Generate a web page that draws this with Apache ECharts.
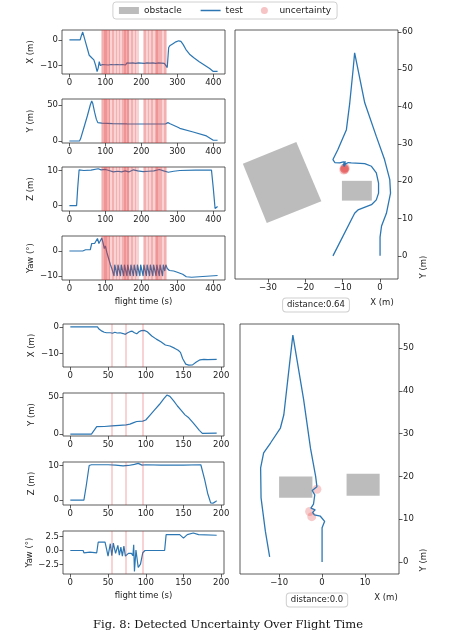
<!DOCTYPE html>
<html><head><meta charset="utf-8">
<script src="https://cdn.jsdelivr.net/npm/echarts@6/dist/echarts.min.js"></script>
<style>html,body{margin:0;padding:0;background:#fff}#c{width:450px;height:638px}</style>
</head><body><div id="c"></div>
<script>
// ---------- data: flight 1 (top) ----------
const topX = [[0,0],[30,0],[33,1.5],[37,3],[40,1.5],[45,-1],[50,-3.5],[55,-6],[62,-7],[68,-7.8],[73,-10],[77,-12.4],[80,-11],[83,-8.5],[86,-10],[89,-9.3],
[92,-9.6],[96,-9.1],[100,-9.7],[104,-9.2],[108,-9.8],[112,-9.1],[116,-9.6],[120,-9.0],[124,-9.7],[128,-9.2],[132,-9.6],[136,-9.0],[140,-9.7],[144,-9.1],[148,-9.6],[152,-9.2],[156,-9.8],[160,-9.0],[164,-9.6],[168,-9.1],[172,-9.7],[176,-9.0],[180,-9.6],[184,-9.2],[188,-9.7],[192,-9.0],[196,-9.6],[200,-9.1],[204,-9.7],[208,-9.2],[212,-9.6],[216,-9.0],[220,-9.7],[224,-9.1],[228,-9.6],[232,-9.0],[236,-9.7],[240,-9.2],[244,-9.6],[248,-9.0],[252,-9.7],[256,-9.1],[260,-9.6],[264,-9.2],[268,-9.8],
[272,-10.8],[276,-3],[280,-2.2],[288,-1.5],[296,-0.8],[304,-0.4],[310,-0.6],[316,-1.8],[324,-3.8],[334,-5.6],[346,-7],[360,-8.4],[375,-9.8],[390,-11.2],[400,-12.3],[412,-12.3]];
const topY = [[0,0],[28,0],[31,3],[40,18],[50,35],[58,50],[62,55.5],[65,52],[70,40],[75,30],[79,25.5],[90,24.8],[120,24.2],[160,23.8],[200,23.6],[240,23.6],[268,23.8],[274,25.5],[280,24],[300,19.5],[307,17.6],[344,12.5],[381,7],[400,1],[412,1]];
const topZ = [[0,0],[20,0],[23,5],[27,10.2],[40,10],[60,10.1],[80,10.5],[88,10.2],[100,10.3],[110,10],[122,9.6],[135,9.8],[145,9.6],[155,9.9],[165,9.6],[178,10.2],[190,9.9],[205,9.7],[220,9.8],[235,9.9],[250,10.3],[262,9.9],[275,9.5],[290,9.8],[307,10],[350,10.1],[395,10.1],[400,5],[405,-0.8],[409,-0.8],[412,-0.2]];
const topYaw = [[0,0],[30,0],[34,-0.6],[37,0],[45,0.5],[58,0.5],[62,3],[70,3],[74,2.5],[78,5],[82,3],[86,3.5],[90,5.2],[94,3],[97,1],[100,2],[104,-0.5],[107,-2],[110,-3.5],[114,-5.5],[118,-7],[121,-8.5],[124,-10],
[126,-5.5],[133,-10],[135,-5.5],[142,-10],[144,-5.5],[151,-10],[153,-5.5],[160,-10],[162,-5.5],[169,-10],[171,-5.5],[178,-10],[180,-5.5],[187,-10],[189,-5.5],[196,-10],[198,-5.5],[205,-10],[207,-5.5],[214,-10],[216,-5.5],[223,-10],[225,-5.5],[232,-10],[234,-5.5],[241,-10],[243,-5.5],[250,-10],[252,-5.5],[259,-10],[261,-5.5],[265,-8],[268,-5.5],[272,-7],[278,-7.8],[290,-8],[300,-8.5],[315,-9.3],[325,-10.3],[340,-10.5],[345,-9.8],[412,-9.8]];
const topUnc = [90,92,95,97,99,101,103,105,108,110,113,117,121,124,128,132,137,141,146,149,151,153,155,157,159,161,163,166,170,173,177,181,185,190,207,210,213,217,221,225,229,233,236,239,242,244,246,248,251,254,258,262,266,268];
const topPath = [[0,0],[0,5],[0.4,8],[1.7,11.4],[2.8,16.8],[2.6,20.4],[1.2,25.8],[-1,32],[-4.1,41],[-6.8,54.4],[-7.2,50],[-8.1,41],[-9,33.8],[-11.3,28.4],[-12.6,25.8],[-12.1,25],[-10.8,24.9],[-9.8,25.2],[-9.2,24.6],[-9.9,24.3],[-9.3,25.3],[-9.6,24],[-9.1,24.8],[-9.7,23.9],[-9.4,24.5],[-8.5,25],[-7.7,24.9],[-4.1,24.7],[-2.3,24],[-1,22.2],[-0.4,19.5],[-0.4,16.8],[-1,15],[-2.3,13.7],[-5.9,12.3],[-6.8,11.4],[-12.6,0]];
const topUncPts = [[-9.5,23.3],[-9.7,23.0],[-9.3,23.6],[-9.6,23.5],[-9.4,23.1]];
const topObstacles = [
  [[-36.7,24.7],[-22.4,30.5],[-15.7,14.6],[-30.3,8.8]],
  [[-10.2,20.1],[-2.2,20.1],[-2.2,14.8],[-10.2,14.8]]
];
const topDistance = 'distance:0.64';

// ---------- data: flight 2 (bottom) ----------
const botX = [[0,0],[33,0],[34,0.4],[36,0],[38,-0.8],[42,-1.6],[45,-2],[48,-2.2],[50,-1.8],[53,-2.2],[56,-2.4],[59,-2],[62,-2.3],[66,-2.2],[70,-2.5],[73,-2.8],[76,-2.2],[79,-1.8],[82,-1.6],[85,-2.2],[88,-2.6],[91,-1.8],[94,-1.4],[98,-1.3],[102,-1.8],[108,-3.4],[114,-4.6],[120,-5.6],[126,-6.8],[132,-7.2],[138,-8],[143,-8.8],[146,-9.6],[149,-12],[153,-14],[157,-14.4],[162,-14.3],[167,-13.2],[172,-12.4],[177,-12.2],[182,-12.3],[194,-12.2]];
const botY = [[0,0],[28,0],[35,10],[45,10.2],[55,11],[65,11.8],[74,12.5],[79,13.5],[84,15.5],[88,17],[96,17.5],[100,19],[106,26],[112,33],[118,40],[124,48],[128,52.8],[132,51],[137,45],[142,38],[147,32],[152,26],[157,22],[162,16],[167,10],[171,5],[175,1],[194,1.2]];
const botZ = [[0,0],[18,0],[21,4],[25,10],[28,10.2],[50,10.2],[60,10.1],[70,9.9],[77,10],[85,10.3],[90,10.6],[95,10.1],[100,10.2],[120,10.1],[150,10.1],[173,10.2],[178,6],[182,2],[186,-0.8],[189,-0.9],[192,-0.5],[194,-0.2]];
const botYaw = [[0,0],[17,0],[18,-0.4],[26,-0.3],[35,-0.4],[37,1.5],[46,1.5],[48,0.3],[50,-1],[53,1.2],[55,-0.9],[57,1.3],[60,-0.5],[63,0.9],[65,-0.8],[67,0.6],[69,-1],[71,0.8],[73,-1],[77,-0.5],[81,-0.5],[83,-0.9],[84,1],[85,-3.7],[87,0.1],[90,-3],[93,-2.4],[96,-0.4],[99,0],[125,0],[127,2.8],[145,2.8],[150,2.2],[155,2.8],[163,3.1],[170,2.8],[194,2.7]];
const botUnc = [55,73,96];
const botPath = [[0,0],[0,8],[0.6,9.5],[-0.4,10.7],[-1.8,11],[-2.2,11.6],[-1.6,12.2],[-2.6,12.6],[-2,13.5],[-1.7,15.7],[-2.3,16.7],[-1.2,17.6],[-1.5,20],[-2.7,26.6],[-4.3,38],[-6.8,53],[-7.6,46],[-8.9,34.4],[-9.7,31.3],[-12,27.8],[-13.6,25.5],[-14.3,22],[-14.2,15],[-13.2,7.2],[-12.2,1.2]];
const botUncPts = [[-1.2,17],[-2.9,11.8],[-2.4,10.6]];
const botObstacles = [
  [[-10,20],[-2.25,20],[-2.25,15],[-10,15]],
  [[5.7,20.6],[13.4,20.6],[13.4,15.5],[5.7,15.5]]
];
const botDistance = 'distance:0.0';

// ---------- tick labels ----------
const topTimeTicks = [0,100,200,300,400];
const botTimeTicks = [0,50,100,150,200];
const panelNames = ['X (m)','Y (m)','Z (m)','Yaw (°)'];
const topYTicks = [[0,-10],[0,50],[0,10],[0,-10]];
const botYTicks = [[0,-10],[0,50],[0,10],[-2.5,0,2.5]];
const topMapXTicks = [-30,-20,-10,0];
const topMapYTicks = [0,10,20,30,40,50,60];
const botMapXTicks = [-10,0,10];
const botMapYTicks = [0,10,20,30,40,50];
const caption = 'Fig. 8: Detected Uncertainty Over Flight Time';

// ---------- styling / layout ----------
const FONT = 'DejaVu Sans';
const AX = '#333';
const TXT = '#222';
const BLUE = '#2c77b3';
const GRAY = '#bcbcbc';
const PINK = 'rgba(228,70,70,0.35)';
const fmt = v => String(v).replace('-', '\u2212');
const fmt1 = v => Number(v).toFixed(1).replace('-', '\u2212');

const grids = [], xAxes = [], yAxes = [], series = [];

function baseAxis(i, min, max, ticks, formatter) {
  return {
    type: 'value', gridIndex: i, min, max,
    axisLine: {show: false, onZero: false}, splitLine: {show: false},
    axisTick: {show: true, inside: false, length: 3.5, lineStyle: {color: AX, width: 0.8}, customValues: ticks},
    axisLabel: {show: true, customValues: ticks, fontSize: 8.5, color: TXT, fontFamily: FONT, margin: 4, formatter: formatter || fmt},
    nameTextStyle: {fontSize: 8.5, fontFamily: FONT, color: TXT}
  };
}
function addGrid(l, t, w, h) {
  grids.push({left: l, top: t, width: w, height: h, show: true, borderColor: AX, borderWidth: 0.8,
    backgroundColor: 'transparent', containLabel: false, outerBoundsMode: 'none'});
  return grids.length - 1;
}
function addTimePanel(g, xr, xTicks, yr, yTicks, yName, data, unc, xName, yFmt) {
  const i = addGrid(g[0], g[1], g[2], g[3]);
  const xa = baseAxis(i, xr[0], xr[1], xTicks);
  xa.position = 'bottom';
  if (xName) { xa.name = xName; xa.nameLocation = 'middle'; xa.nameGap = 17; }
  xAxes.push(xa);
  const ya = baseAxis(i, yr[0], yr[1], yTicks, yFmt);
  ya.position = 'left';
  ya.name = yName; ya.nameLocation = 'middle'; ya.nameRotate = 90; ya.nameGap = 27;
  yAxes.push(ya);
  series.push({
    type: 'line', name: 'test', xAxisIndex: i, yAxisIndex: i, data: data,
    showSymbol: false, symbol: 'none', lineStyle: {color: BLUE, width: 1.2}, itemStyle: {color: BLUE},
    z: 3, animation: false, silent: true,
    markLine: {silent: true, symbol: ['none', 'none'], label: {show: false}, animation: false,
      lineStyle: {color: 'rgba(228,55,55,0.22)', width: 2, type: 'solid'},
      emphasis: {disabled: true},
      data: unc.map(t => ({xAxis: t}))}
  });
}
function addMap(g, xr, xTicks, yr, yTicks, path, pts, obstacles) {
  const i = addGrid(g[0], g[1], g[2], g[3]);
  const xa = baseAxis(i, xr[0], xr[1], xTicks);
  xa.position = 'bottom';
  xAxes.push(xa);
  const ya = baseAxis(i, yr[0], yr[1], yTicks);
  ya.position = 'right';
  yAxes.push(ya);
  series.push({
    type: 'custom', name: 'obstacle', xAxisIndex: i, yAxisIndex: i, z: 1, silent: true, animation: false,
    data: obstacles.map(p => [p[0][0], p[0][1]]),
    renderItem: (params, api) => ({
      type: 'polygon',
      shape: {points: obstacles[params.dataIndex].map(pt => api.coord(pt))},
      style: {fill: GRAY}
    })
  });
  series.push({type: 'scatter', name: 'uncertainty', xAxisIndex: i, yAxisIndex: i, data: pts,
    symbolSize: 9, itemStyle: {color: PINK}, z: 2, silent: true, animation: false});
  series.push({type: 'line', name: 'test', xAxisIndex: i, yAxisIndex: i, data: path,
    showSymbol: false, symbol: 'none', lineStyle: {color: BLUE, width: 1.3}, itemStyle: {color: BLUE},
    z: 3, silent: true, animation: false});
}

// top left panels
const topSeries = [topX, topY, topZ, topYaw];
const topYR = [[-13.3, 3.8], [-2.8, 58.3], [-1.5, 11], [-11.6, 6]];
const topTops = [30, 99, 167, 236];
for (let k = 0; k < 4; k++) {
  addTimePanel([62, topTops[k], 163, 44], [-20.6, 432.6], topTimeTicks, topYR[k], topYTicks[k], panelNames[k],
    topSeries[k], topUnc, k === 3 ? 'flight time (s)' : '', null);
}
// bottom left panels
const botSeries = [botX, botY, botZ, botYaw];
const botYR = [[-15.1, 1.1], [-2.65, 55.6], [-1.4, 11], [-4.15, 3.45]];
const botTops = [324, 393, 462, 531];
for (let k = 0; k < 4; k++) {
  addTimePanel([63, botTops[k], 161, 43], [-9.7, 203.7], botTimeTicks, botYR[k], botYTicks[k], panelNames[k],
    botSeries[k], botUnc, k === 3 ? 'flight time (s)' : '', k === 3 ? fmt1 : null);
}
// maps
addMap([235, 30, 163, 249], [-38.8, 4.8], topMapXTicks, [-6.2, 60.5], topMapYTicks, topPath, topUncPts, topObstacles);
addMap([240, 324, 159, 250], [-19.1, 17.9], botMapXTicks, [-2.8, 55.6], botMapYTicks, botPath, botUncPts, botObstacles);

function label(text, x, y, rot) {
  return {type: 'text', x: x, y: y, rotation: rot || 0, silent: true,
    style: {text: text, x: 0, y: 0, align: 'center', verticalAlign: 'middle', fontSize: 8.5, fontFamily: FONT, fill: TXT}};
}
function box(text, x, y) {
  return {type: 'text', x: x, y: y, silent: true,
    style: {text: text, x: 0, y: 0, align: 'center', verticalAlign: 'middle', fontSize: 8.5, fontFamily: FONT, fill: TXT,
      backgroundColor: '#fff', borderColor: '#cfcfcf', borderWidth: 1, borderRadius: 3, padding: [2, 4]}};
}

const option = {
  backgroundColor: '#fff',
  animation: false,
  legend: {
    left: 'center', top: 2, itemWidth: 20, itemHeight: 7, itemGap: 18, padding: [4, 6],
    borderColor: '#d0d0d0', borderWidth: 1, borderRadius: 3, selectedMode: false,
    textStyle: {fontSize: 9, fontFamily: FONT, color: TXT},
    data: [
      {name: 'obstacle', icon: 'rect', itemStyle: {color: GRAY}},
      {name: 'test', itemStyle: {color: BLUE, opacity: 0}, lineStyle: {color: BLUE, width: 1.5}},
      {name: 'uncertainty', icon: 'circle', itemStyle: {color: 'rgba(228,70,70,0.4)'}}
    ]
  },
  grid: grids, xAxis: xAxes, yAxis: yAxes, series: series,
  graphic: [
    label('X (m)', 382, 303),
    label('Y (m)', 424, 267, Math.PI / 2),
    box(topDistance, 316, 305),
    label('X (m)', 386, 598),
    label('Y (m)', 424, 560, Math.PI / 2),
    box(botDistance, 317, 600),
    {type: 'text', x: 228, y: 625, silent: true,
      style: {text: caption, x: 0, y: 0, align: 'center', verticalAlign: 'middle', fontSize: 11.5, fontFamily: 'DejaVu Serif', fill: '#111'}}
  ]
};
const chart = echarts.init(document.getElementById('c'), null, {renderer: 'canvas'});
chart.setOption(option);
</script></body></html>
